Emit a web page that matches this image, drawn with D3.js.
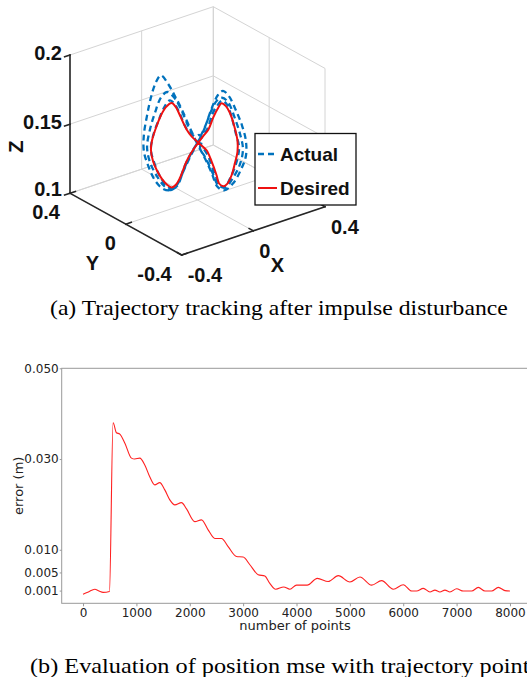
<!DOCTYPE html>
<html>
<head>
<meta charset="utf-8">
<script src="https://cdn.jsdelivr.net/npm/d3@7"></script>
<style>
  body { margin: 0; background: #fff; }
  svg { display: block; }
</style>
</head>
<body>
<svg id="fig" width="527" height="677"></svg>
<script>
// ---------- (a) 3D trajectory ----------
// position along the trajectory plane (m) and height z (m)
const desiredS = [0, -0.026, -0.048, -0.077, -0.095, -0.114, -0.139, -0.161, -0.183, -0.200,
  -0.205, -0.196, -0.178, -0.156, -0.134, -0.114, -0.095, -0.077, -0.048, -0.024,
  0.024, 0.048, 0.070, 0.092, 0.106, 0.125, 0.143, 0.161, 0.176, 0.176,
  0.165, 0.150, 0.132, 0.114, 0.095, 0.084, 0.062, 0.040, 0.020];
const desiredZ = [0.142, 0.146, 0.151, 0.161, 0.167, 0.170, 0.167, 0.161, 0.152, 0.143,
  0.136, 0.128, 0.121, 0.115, 0.111, 0.109, 0.111, 0.116, 0.128, 0.135,
  0.146, 0.151, 0.160, 0.167, 0.170, 0.168, 0.163, 0.154, 0.143, 0.135,
  0.127, 0.118, 0.112, 0.110, 0.112, 0.118, 0.128, 0.136, 0.139];

const actualS = [
  -0.002, -0.033, -0.068, -0.099, -0.130, -0.161, -0.183, -0.205, -0.222, -0.236,
  -0.236, -0.218, -0.187, -0.152, -0.121, -0.090, -0.064, -0.033, -0.002, 0.033,
  0.064, 0.090, 0.112, 0.139, 0.169, 0.196, 0.213, 0.213, 0.191, 0.156,
  0.117, 0.086, 0.064, 0.033,
  -0.002, -0.037, -0.077, -0.108, -0.134, -0.161, -0.187, -0.209, -0.222, -0.209,
  -0.178, -0.147, -0.117, -0.086, -0.055, -0.024, 0.002, 0.029, 0.059, 0.086,
  0.108, 0.134, 0.165, 0.187, 0.200, 0.187, 0.156, 0.121, 0.090, 0.068,
  0.037, 0.011, 0.020, 0.008, -0.010,
  -0.046, -0.077, -0.099, -0.121, -0.143, -0.170, -0.196, -0.205, -0.191, -0.165,
  -0.134, -0.112, -0.086, -0.055, -0.024, 0.007, 0.042, 0.068, 0.090, 0.108,
  0.130, 0.152, 0.169, 0.183, 0.169, 0.147, 0.117, 0.095, 0.073, 0.046,
  0.015, -0.002];
const actualZ = [
  0.141, 0.152, 0.165, 0.175, 0.184, 0.190, 0.185, 0.174, 0.161, 0.147,
  0.135, 0.125, 0.114, 0.108, 0.107, 0.110, 0.120, 0.131, 0.141, 0.153,
  0.167, 0.176, 0.179, 0.175, 0.165, 0.154, 0.143, 0.132, 0.122, 0.112,
  0.107, 0.110, 0.119, 0.130,
  0.141, 0.152, 0.167, 0.175, 0.178, 0.174, 0.163, 0.151, 0.138, 0.127,
  0.117, 0.110, 0.107, 0.112, 0.124, 0.135, 0.142, 0.151, 0.164, 0.172,
  0.174, 0.171, 0.159, 0.148, 0.137, 0.126, 0.116, 0.109, 0.111, 0.119,
  0.130, 0.138, 0.143, 0.147, 0.146,
  0.151, 0.162, 0.169, 0.172, 0.168, 0.158, 0.146, 0.136, 0.127, 0.117,
  0.110, 0.108, 0.112, 0.125, 0.135, 0.143, 0.151, 0.163, 0.169, 0.172,
  0.169, 0.159, 0.148, 0.138, 0.126, 0.117, 0.109, 0.112, 0.120, 0.132,
  0.140, 0.144];

const planeDir = [0.781, -0.625]; // horizontal direction of the trajectory plane in x-y

const xTicks3 = [-0.4, 0, 0.4];
const yTicks3 = [-0.4, 0, 0.4];
const zTicks3 = [0.1, 0.15, 0.2];
const xTickLabels3 = ["-0.4", "0", "0.4"];
const yTickLabels3 = ["-0.4", "0", "0.4"];
const zTickLabels3 = ["0.1", "0.15", "0.2"];
const legendNames = ["Actual", "Desired"];

// ---------- (b) position error ----------
const errPoints = [0, 100, 220, 300, 375, 495, 563, 626, 688, 784,
  907, 969, 1063, 1157, 1250, 1344, 1438, 1532, 1626, 1720,
  1845, 1939, 2094, 2220, 2344, 2470, 2595, 2719, 2876, 3000,
  3126, 3282, 3407, 3500, 3610, 3760, 3876, 4001, 4200, 4390,
  4595, 4782, 5001, 5189, 5408, 5595, 5813, 6001, 6158, 6250,
  6376, 6501, 6594, 6688, 6782, 6876, 7001, 7126, 7283, 7407,
  7532, 7657, 7782, 7907, 8000];
const errValues = [0.0002, 0.0007, 0.0013, 0.0009, 0.0006, 0.0008, 0.0380, 0.0358, 0.0355, 0.0335,
  0.0302, 0.0300, 0.0302, 0.0287, 0.0261, 0.0243, 0.0248, 0.0232, 0.0210, 0.0199,
  0.0204, 0.0190, 0.0162, 0.0166, 0.0144, 0.0125, 0.0125, 0.0107, 0.0085, 0.0084,
  0.0067, 0.0045, 0.0042, 0.0026, 0.0013, 0.0018, 0.0013, 0.0022, 0.0022, 0.0037,
  0.0030, 0.0043, 0.0029, 0.0040, 0.0022, 0.0032, 0.0013, 0.0023, 0.0009, 0.0009,
  0.0015, 0.0007, 0.0011, 0.0007, 0.0011, 0.0007, 0.0014, 0.0009, 0.0009, 0.0017,
  0.0009, 0.0009, 0.0017, 0.0010, 0.0009];
const errXTicks = [0, 1000, 2000, 3000, 4000, 5000, 6000, 7000, 8000];
const errYTicks = [0.001, 0.005, 0.010, 0.030, 0.050];

const captions = [
  "(a) Trajectory tracking after impulse disturbance",
  "(b) Evaluation of position mse with trajectory points"
];

const svg = d3.select("#fig");
svg.append("rect").attr("width", 527).attr("height", 677).attr("fill", "#fff");

// ===== 3D box (MATLAB-like view) =====
const origin = [181.7, 255];
const vx = [143.3, -48.3], vy = [-111.7, -61.7], vz = [0, -138.3];
const sx = d3.scaleLinear().domain([-0.4, 0.4]).range([0, 1]);
const sy = d3.scaleLinear().domain([-0.4, 0.4]).range([0, 1]);
const sz = d3.scaleLinear().domain([0.1, 0.2]).range([0, 1]);
const proj = (x, y, z) => [
  origin[0] + sx(x) * vx[0] + sy(y) * vy[0] + sz(z) * vz[0],
  origin[1] + sx(x) * vx[1] + sy(y) * vy[1] + sz(z) * vz[1]
];

const g3 = svg.append("g");
const grid = [];
xTicks3.forEach((x) => grid.push([[x, 0.4, 0.1], [x, 0.4, 0.2]]));
zTicks3.forEach((z) => grid.push([[-0.4, 0.4, z], [0.4, 0.4, z]]));
yTicks3.forEach((y) => grid.push([[0.4, y, 0.1], [0.4, y, 0.2]]));
zTicks3.forEach((z) => grid.push([[0.4, -0.4, z], [0.4, 0.4, z]]));
xTicks3.forEach((x) => grid.push([[x, -0.4, 0.1], [x, 0.4, 0.1]]));
yTicks3.forEach((y) => grid.push([[-0.4, y, 0.1], [0.4, y, 0.1]]));

g3.selectAll("line.grid")
  .data(grid)
  .enter()
  .append("line")
  .attr("class", "grid")
  .attr("x1", (d) => proj(...d[0])[0])
  .attr("y1", (d) => proj(...d[0])[1])
  .attr("x2", (d) => proj(...d[1])[0])
  .attr("y2", (d) => proj(...d[1])[1])
  .attr("stroke", "#d4d4d4")
  .attr("stroke-width", 1);

// axis lines + ticks
const axes = [
  [[-0.4, 0.4, 0.1], [-0.4, 0.4, 0.2]],
  [[-0.4, -0.4, 0.1], [-0.4, 0.4, 0.1]],
  [[-0.4, -0.4, 0.1], [0.4, -0.4, 0.1]]
];
zTicks3.forEach((z) => axes.push([[-0.4, 0.4, z], [-0.43, 0.4, z]]));
yTicks3.forEach((y) => axes.push([[-0.4, y, 0.1], [-0.37, y, 0.1]]));
xTicks3.forEach((x) => axes.push([[x, -0.4, 0.1], [x, -0.37, 0.1]]));

g3.selectAll("line.axis")
  .data(axes)
  .enter()
  .append("line")
  .attr("class", "axis")
  .attr("x1", (d) => proj(...d[0])[0])
  .attr("y1", (d) => proj(...d[0])[1])
  .attr("x2", (d) => proj(...d[1])[0])
  .attr("y2", (d) => proj(...d[1])[1])
  .attr("stroke", "#262626")
  .attr("stroke-width", 1.6)
  .attr("stroke-linecap", "square");

const boldFont = "'Liberation Sans', Arial, sans-serif";
const label3 = (x, y, txt, anchor) =>
  g3.append("text")
    .attr("x", x).attr("y", y).attr("dy", "0.35em")
    .attr("text-anchor", anchor)
    .style("font-family", boldFont).style("font-weight", "bold")
    .style("font-size", "20px").attr("fill", "#111")
    .text(txt);

zTicks3.forEach((z, i) => {
  const p = proj(-0.4, 0.4, z);
  label3(p[0] - 8, p[1] - (z === 0.1 ? 4 : 2), zTickLabels3[i], "end");
});
yTicks3.forEach((y, i) => {
  const p = proj(-0.4, y, 0.1);
  label3(p[0] - 10, p[1] + 19, yTickLabels3[i], "end");
});
xTicks3.forEach((x, i) => {
  const p = proj(x, -0.4, 0.1);
  label3(p[0] + 6, p[1] + 20, xTickLabels3[i], "start");
});
label3(92.5, 262.5, "Y", "middle");
label3(277.5, 265, "X", "middle");
label3(0, 0, "Z", "middle").attr("transform", "translate(15.5,146.7) rotate(-90)");

// trajectories
const toPts = (S, Z) => S.map((s, i) => proj(s * planeDir[0], s * planeDir[1], Z[i]));

g3.append("path")
  .attr("d", d3.line().curve(d3.curveCatmullRom.alpha(0.5))(toPts(actualS, actualZ)))
  .attr("fill", "none")
  .attr("stroke", "#0072BD")
  .attr("stroke-width", 2.3)
  .attr("stroke-dasharray", "6,4");

g3.append("path")
  .attr("d", d3.line().curve(d3.curveCatmullRomClosed.alpha(0.5))(toPts(desiredS, desiredZ)))
  .attr("fill", "none")
  .attr("stroke", "#ee1111")
  .attr("stroke-width", 2);

// legend
const lg = g3.append("g").attr("transform", "translate(255,133.5)");
lg.append("rect")
  .attr("width", 101).attr("height", 71.5)
  .attr("fill", "#fff").attr("stroke", "#111").attr("stroke-width", 1.3);
legendNames.forEach((name, i) => {
  const yy = 20.5 + i * 34;
  lg.append("line")
    .attr("x1", 3).attr("x2", 22).attr("y1", yy).attr("y2", yy)
    .attr("stroke", i === 0 ? "#0072BD" : "#ee1111")
    .attr("stroke-width", i === 0 ? 2.3 : 2)
    .attr("stroke-dasharray", i === 0 ? "6,4" : null);
  lg.append("text")
    .attr("x", 25).attr("y", yy).attr("dy", "0.35em")
    .style("font-family", boldFont).style("font-weight", "bold")
    .style("font-size", "19px").attr("fill", "#111")
    .text(name);
});

// ===== (b) error chart =====
const ex = d3.scaleLinear().domain([-400, 8400]).range([61.7, 531.3]);
const ey = d3.scaleLinear().domain([-0.0018, 0.050]).range([603.3, 368.3]);
const sans = "'DejaVu Sans', sans-serif";

const gb = svg.append("g");
gb.append("rect")
  .attr("x", ex(-400)).attr("y", ey(0.050))
  .attr("width", ex(8400) - ex(-400)).attr("height", ey(-0.0018) - ey(0.050))
  .attr("fill", "none").attr("stroke", "#999").attr("stroke-width", 1);

const yAx = gb.append("g")
  .attr("transform", `translate(${ex(-400)},0)`)
  .call(d3.axisLeft(ey).tickValues(errYTicks).tickFormat(d3.format(".3f")).tickSize(2).tickPadding(1));
const xAx = gb.append("g")
  .attr("transform", `translate(0,${ey(-0.0018)})`)
  .call(d3.axisBottom(ex).tickValues(errXTicks).tickFormat(d3.format("d")).tickSize(3).tickPadding(2));
[yAx, xAx].forEach((a) => {
  a.select(".domain").remove();
  a.selectAll("line").attr("stroke", "#999");
  a.selectAll("text").style("font-family", sans).style("font-size", "12px").attr("fill", "#222");
});

gb.append("path")
  .attr("d", d3.line()
    .x((d, i) => ex(errPoints[i]))
    .y((d) => ey(d))
    .curve(d3.curveMonotoneX)(errValues))
  .attr("fill", "none")
  .attr("stroke", "#ff2020")
  .attr("stroke-width", 1.1);

gb.append("text")
  .attr("x", 295).attr("y", 625.7).attr("dy", "0.35em")
  .attr("text-anchor", "middle")
  .style("font-family", sans).style("font-size", "13px").attr("fill", "#222")
  .text("number of points");
gb.append("text")
  .attr("transform", "translate(18.3,485.8) rotate(-90)")
  .attr("dy", "0.35em").attr("text-anchor", "middle")
  .style("font-family", sans).style("font-size", "13px").attr("fill", "#222")
  .text("error (m)");

// ===== captions =====
const serif = "'Liberation Serif', 'Times New Roman', serif";
const capA = svg.append("text")
  .style("font-family", serif).style("font-size", "21px").attr("fill", "#000")
  .text(captions[0]);
const kA = 458 / capA.node().getComputedTextLength();
capA.attr("transform", `translate(50,315.2) scale(${kA},1)`);

const capB = svg.append("text")
  .style("font-family", serif).style("font-size", "21px").attr("fill", "#000")
  .text(captions[1]);
// visible part of caption (b) runs from x=30 to the "n" of "points" near the right edge
const kB = 493 / capB.node().getSubStringLength(0, 51);
capB.attr("transform", `translate(30,672.8) scale(${kB},1)`);
</script>
</body>
</html>
